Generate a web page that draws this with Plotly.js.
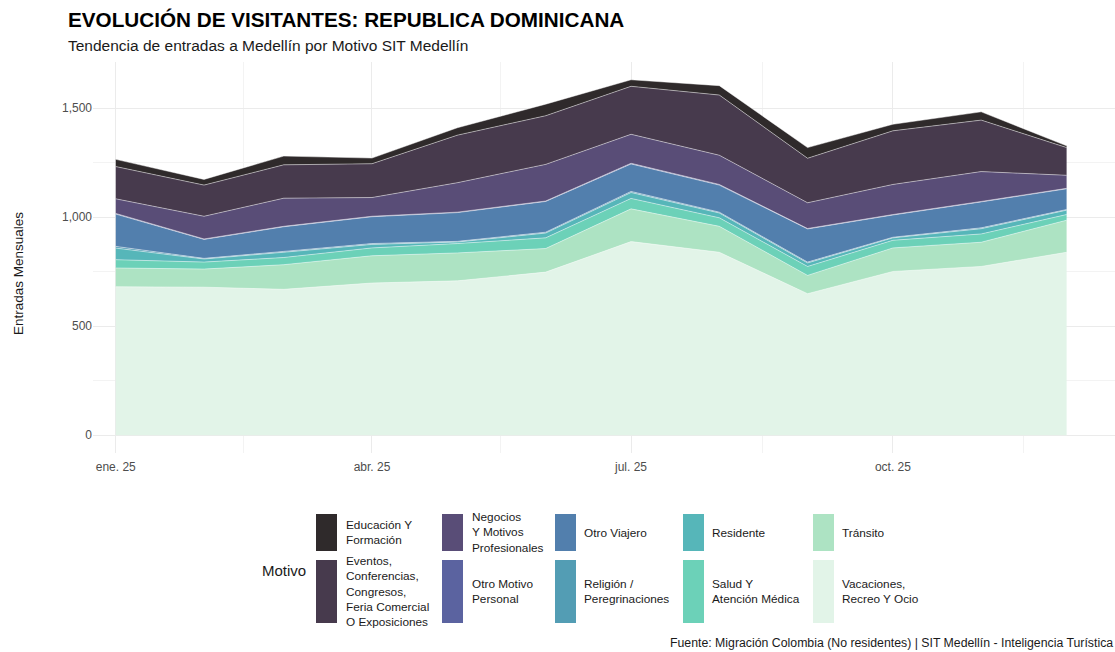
<!DOCTYPE html>
<html>
<head>
<meta charset="utf-8">
<script src="https://cdn.plot.ly/plotly-3.0.1.min.js"></script>
<style>html,body{margin:0;padding:0;background:#fff;}#chart{width:1115px;height:652px;}</style>
</head>
<body>
<div id="chart"></div>
<script>
// ---- DATA ----
const months = ["2025-01-01","2025-02-01","2025-03-01","2025-04-01","2025-05-01","2025-06-01",
                "2025-07-01","2025-08-01","2025-09-01","2025-10-01","2025-11-01","2025-12-01"];
const tickDates = ["2025-01-01","2025-04-01","2025-07-01","2025-10-01"];
const tickLabels = ["ene. 25","abr. 25","jul. 25","oct. 25"];

// bottom to top stacking order
const vacaciones   = [681, 679, 669, 698, 708, 748, 888, 839, 649, 751, 774, 839];
const transito     = [ 86,  83, 113, 125, 128, 108, 150, 119,  84, 108, 111, 147];
const salud        = [ 38,  32,  33,  36,  43,  49,  48,  39,  41,  35,  38,  26];
const residente    = [ 53,  14,  24,  16,   7,  22,  27,  22,  16,  11,  24,  20];
const religion     = [  8,   3,   4,   4,   3,   4,   5,   4,   4,   3,   4,   3];
const otroViajero  = [148,  87, 113, 123, 132, 141, 126, 124, 152, 102, 119,  95];
const otroMotivo   = [  3,   2,   2,   2,   2,   2,   3,   3,   2,   2,   2,   2];
const negocios     = [ 67, 104, 129,  86, 135, 168, 133, 134, 118, 138, 137,  60];
const eventos      = [148, 143, 153, 155, 218, 223, 220, 276, 204, 246, 236, 127];
const educacion    = [ 33,  26,  40,  26,  34,  53,  30,  43,  49,  30,  38,   8];

const categories = ["Vacaciones, Recreo Y Ocio","Tránsito","Salud Y Atención Médica","Residente",
  "Religión / Peregrinaciones","Otro Viajero","Otro Motivo Personal",
  "Negocios Y Motivos Profesionales","Eventos, Conferencias, Congresos, Feria Comercial O Exposiciones",
  "Educación Y Formación"];
const legendLabels = ["Vacaciones,<br>Recreo Y Ocio","Tránsito","Salud Y<br>Atención Médica","Residente",
  "Religión /<br>Peregrinaciones","Otro Viajero","Otro Motivo<br>Personal",
  "Negocios<br>Y Motivos<br>Profesionales","Eventos,<br>Conferencias,<br>Congresos,<br>Feria Comercial<br>O Exposiciones",
  "Educación Y<br>Formación"];
const seriesValues = [vacaciones, transito, salud, residente, religion, otroViajero, otroMotivo, negocios, eventos, educacion];
const colors = ["#E2F4E8","#ADE3C3","#6CD1B8","#56B6B9","#539DB4","#527FAD","#5B63A0","#594D77","#473A4D","#2F2A2B"];

// ---- LAYOUT HELPERS ----
const W = 1115, H = 652;
const L = 93, R = 1115, T = 62, B = 453;
const px = x => (x - L) / (R - L);
const py = y => (B - y) / (B - T);

const traces = seriesValues.map((vals, i) => ({
  type: "scatter", mode: "lines", x: months, y: vals, name: categories[i],
  stackgroup: "one", fillcolor: colors[i],
  line: {color: "rgba(255,255,255,0.75)", width: 0.6},
  showlegend: false, hoverinfo: "x+y+name"
}));

const shapes = [];
const annotations = [];
const FONT = "Liberation Sans, Arial, sans-serif";

// subtitle
annotations.push({xref:"paper", yref:"paper", x: px(66), y: py(46), xanchor:"left", yanchor:"middle",
  text:"Tendencia de entradas a Medellín por Motivo SIT Medellín", showarrow:false,
  font:{family:FONT, size:15.5, color:"#1a1a1a"}});
// y axis title
annotations.push({xref:"paper", yref:"paper", x: px(18), y: py(274), xanchor:"center", yanchor:"middle",
  text:"Entradas Mensuales", textangle:-90, showarrow:false, font:{family:FONT, size:13.5, color:"#1a1a1a"}});
// caption
annotations.push({xref:"paper", yref:"paper", x: px(1115), y: py(643), xanchor:"right", yanchor:"middle",
  text:"Fuente: Migración Colombia (No residentes) | SIT Medellín - Inteligencia Turística", showarrow:false,
  font:{family:FONT, size:12.3, color:"#1a1a1a"}});
// legend title
annotations.push({xref:"paper", yref:"paper", x: px(260), y: py(570), xanchor:"left", yanchor:"middle",
  text:"Motivo", showarrow:false, font:{family:FONT, size:15, color:"#1a1a1a"}});

// custom legend: column-major
const legendOrder = [9,8,7,6,5,4,3,2,1,0];
const colSwatchX = [316, 442, 555, 683, 813];
const colTextX = [344, 470, 582, 710, 840];
const rows = [[514, 551],[560, 623]];
legendOrder.forEach((idx, k) => {
  const col = Math.floor(k / 2), row = k % 2;
  const [y0, y1] = rows[row];
  shapes.push({type:"rect", xref:"paper", yref:"paper", x0: px(colSwatchX[col]), x1: px(colSwatchX[col] + 21),
    y0: py(y1), y1: py(y0), fillcolor: colors[idx], line:{width:0}, layer:"above"});
  annotations.push({xref:"paper", yref:"paper", x: px(colTextX[col]), y: py((y0 + y1) / 2),
    xanchor:"left", yanchor:"middle", align:"left", text: legendLabels[idx], showarrow:false,
    font:{family:FONT, size:11.8, color:"#1a1a1a"}});
});

const layout = {
  width: W, height: H,
  margin: {l: L, r: W - R, t: T, b: H - B, pad: 0},
  paper_bgcolor: "#ffffff", plot_bgcolor: "#ffffff",
  font: {family: FONT},
  title: {text: "<b>EVOLUCIÓN DE VISITANTES: REPUBLICA DOMINICANA</b>", xref: "container", yref: "container",
    x: 68 / W, y: 1 - 20 / H, xanchor: "left", yanchor: "middle", font: {family: FONT, size: 20.7, color: "#000"}},
  xaxis: {type: "date", range: ["2024-12-24", "2025-12-18"], tickvals: tickDates, ticktext: tickLabels,
    showgrid: true, gridcolor: "#EBEBEB", gridwidth: 1, zeroline: false, showline: false, ticks: "",
    ticklabelstandoff: 5,
    tickfont: {family: FONT, size: 12, color: "#4D4D4D"},
    minor: {tickvals: ["2025-02-15","2025-05-16","2025-08-16","2025-11-16"], showgrid: true, gridcolor: "#F3F3F3", gridwidth: 1, ticks: ""}},
  yaxis: {range: [-81.5, 1711.5], tickvals: [0, 500, 1000, 1500], tickformat: ",d",
    showgrid: true, gridcolor: "#EBEBEB", gridwidth: 1, zeroline: false, showline: false, ticks: "",
    tickfont: {family: FONT, size: 12, color: "#4D4D4D"},
    minor: {tickvals: [250, 750, 1250], showgrid: true, gridcolor: "#F3F3F3", gridwidth: 1, ticks: ""}},
  shapes: shapes, annotations: annotations, showlegend: false
};

Plotly.newPlot("chart", traces, layout, {displayModeBar: false, staticPlot: true});
</script>
</body>
</html>
